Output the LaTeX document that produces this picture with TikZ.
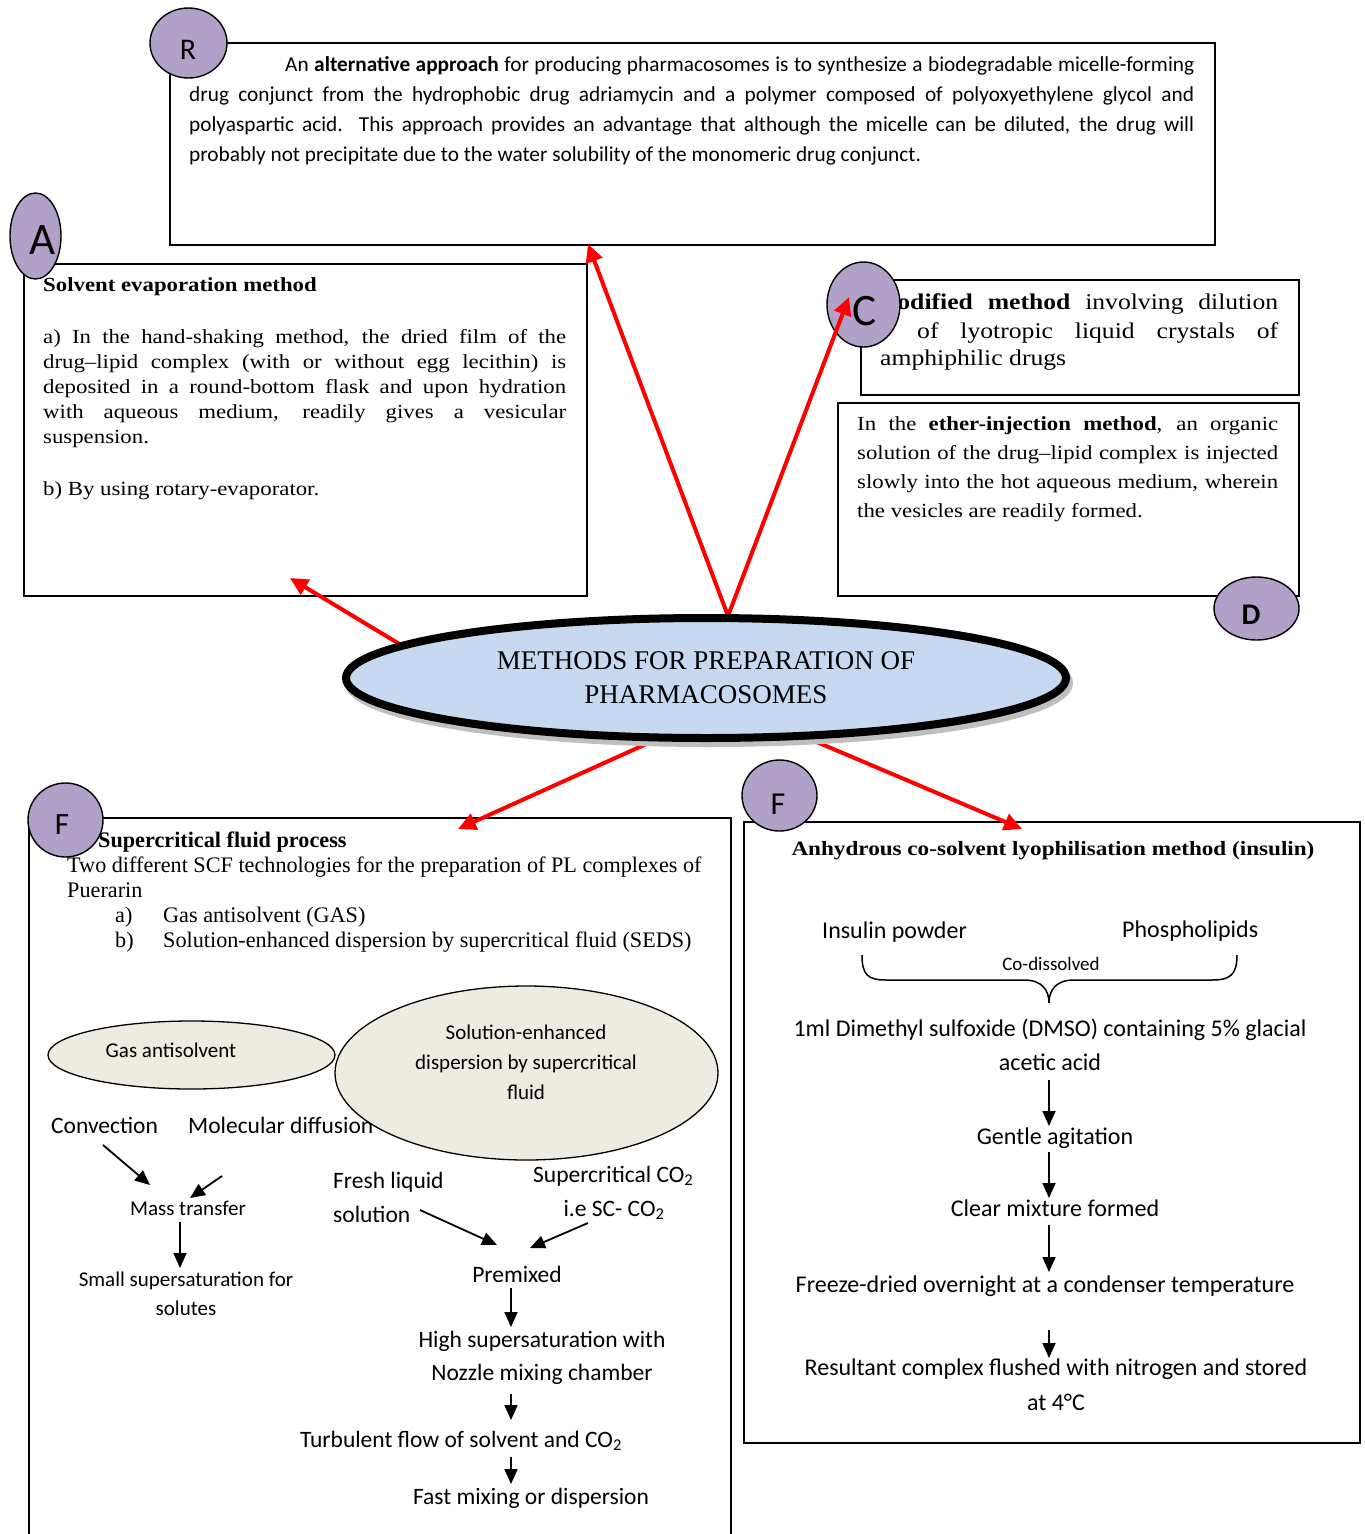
\documentclass[tikz,border=0pt]{standalone}
\usepackage{fontspec}
\setmainfont{Liberation Serif}
\newfontfamily\fcal{Carlito}
\newfontfamily\fcamb[FakeStretch=1.14]{Liberation Serif}
\newfontfamily\ftimes{Liberation Serif}
\usetikzlibrary{arrows.meta,shapes.geometric}
\definecolor{lav}{HTML}{B1A0C7}
\definecolor{beigefill}{HTML}{EEECE1}
\definecolor{cblue}{HTML}{C6D9F1}
\newcommand\fB{\fcal\fontsize{21.3pt}{30pt}\selectfont}
\newcommand\fA{\fcamb\fontsize{20pt}{25pt}\selectfont}
\newcommand\fC{\fcamb\fontsize{22.5pt}{28pt}\selectfont}
\newcommand\fM{\ftimes\fontsize{27pt}{34pt}\selectfont}
\newcommand\fS{\ftimes\fontsize{22.2pt}{25pt}\selectfont}
\newcommand\fL{\fcal\fontsize{23.5pt}{28pt}\selectfont}
\newcommand\fLs{\fcal\fontsize{21pt}{25pt}\selectfont}
\newcommand\fR{\fcal\fontsize{24pt}{28pt}\selectfont}
\newcommand\fRt{\fcamb\fontsize{20.3pt}{25pt}\selectfont\bfseries}
\tikzset{
 box/.style={draw, line width=1.8pt, anchor=north west, inner sep=0pt},
 lab/.style={ellipse, draw, line width=1.4pt, fill=lav, inner sep=0pt},
 tl/.style={anchor=base west, inner sep=0pt},
 tc/.style={anchor=base, inner sep=0pt},
 redarr/.style={draw=red, line width=4pt, -{Triangle[length=18pt,width=17pt]}},
 blkarr/.style={line width=1.8pt, -{Triangle[length=15pt,width=13pt]}},
 bub/.style={ellipse, draw, line width=1.3pt, fill=beigefill, inner sep=0pt},
}
\begin{document}
\begin{tikzpicture}[x=1pt,y=-1pt]
\useasboundingbox (0,0) rectangle (1365,1534);
\clip (0,0) rectangle (1365,1534);
\fill[white] (0,0) rectangle (1365,1534);

% ---------- boxes ----------
\node[box, minimum width=1045pt, minimum height=202pt] (boxB) at (169,42) {};
\node[box, minimum width=563pt, minimum height=332pt] (boxA) at (23,263) {};
\node[box, minimum width=438pt, minimum height=115pt] (boxC) at (860,279) {};
\node[box, minimum width=461pt, minimum height=193pt] (boxD) at (837,402) {};
\node[box, minimum width=702pt, minimum height=760pt] (boxFL) at (28,817) {};
\node[box, minimum width=616pt, minimum height=621pt] (boxFR) at (743,821) {};

% ---------- B text ----------
\node[tl, font=\fB] (b1) at (285,71) {\makebox[909pt][s]{An \textbf{alternative approach} for producing pharmacosomes is to synthesize a biodegradable micelle-forming}};
\node[tl, font=\fB] (b2) at (189,101) {\makebox[1005pt][s]{drug conjunct from the hydrophobic drug adriamycin and a polymer composed of polyoxyethylene glycol and}};
\node[tl, font=\fB] (b3) at (189,131) {\makebox[1005pt][s]{polyaspartic acid. This approach provides an advantage that although the micelle can be diluted, the drug will}};
\node[tl, font=\fB] (b4) at (189,161) {probably not precipitate due to the water solubility of the monomeric drug conjunct.};

% ---------- A text ----------
\node[tl, font=\fA] (a0) at (43,291) {\textbf{Solvent evaporation method}};
\node[tl, font=\fA] (a1) at (43,343) {\makebox[523pt][s]{a) In the hand-shaking method, the dried film of the}};
\node[tl, font=\fA] (a2) at (43,368) {\makebox[523pt][s]{drug–lipid complex (with or without egg lecithin) is}};
\node[tl, font=\fA] (a3) at (43,393) {\makebox[523pt][s]{deposited in a round-bottom flask and upon hydration}};
\node[tl, font=\fA] (a4) at (43,418) {\makebox[523pt][s]{with aqueous medium, readily gives a vesicular}};
\node[tl, font=\fA] (a5) at (43,443) {suspension.};
\node[tl, font=\fA] (a6) at (43,495) {b) By using rotary-evaporator.};

% ---------- C text ----------
\node[tl, font=\fC] (c1) at (873,309) {\makebox[405pt][s]{\textbf{Modified method} involving dilution}};
\node[tl, font=\fC] (c2) at (917,338) {\makebox[361pt][s]{of lyotropic liquid crystals of}};
\node[tl, font=\fC] (c3) at (880,365) {amphiphilic drugs};

% ---------- D text ----------
\node[tl, font=\fA] (d1) at (857,430) {\makebox[421pt][s]{In the \textbf{ether-injection method}, an organic}};
\node[tl, font=\fA] (d2) at (857,459) {\makebox[421pt][s]{solution of the drug–lipid complex is injected}};
\node[tl, font=\fA] (d3) at (857,488) {\makebox[421pt][s]{slowly into the hot aqueous medium, wherein}};
\node[tl, font=\fA] (d4) at (857,517) {the vesicles are readily formed.};

% ---------- left F text ----------
\node[tl, font=\fS] (s1) at (67,872) {Two different SCF technologies for the preparation of PL complexes of};
\node[tl, font=\fS] (s2) at (67,897) {Puerarin};
\node[tl, font=\fS] (s3) at (115,922) {a)};
\node[tl, font=\fS] (s4) at (163,922) {Gas antisolvent (GAS)};
\node[tl, font=\fS] (s5) at (115,947) {b)};
\node[tl, font=\fS] (s6) at (163,947) {Solution-enhanced dispersion by supercritical fluid (SEDS)};

\node[tl, font=\fL] (conv) at (51,1133) {Convection};
\node[tl, font=\fL] (moldif) at (188,1133) {Molecular diffusion};
\node[bub, minimum width=287pt, minimum height=68pt] (gas) at (191.5,1055) {};
\node[tc, font=\fLs] (gast) at (171,1057) {Gas antisolvent};
\node[bub, minimum width=383pt, minimum height=174pt] (seds) at (526.5,1073) {};
\node[tc, font=\fLs] (sd1) at (526,1039) {Solution-enhanced};
\node[tc, font=\fLs] (sd2) at (526,1069) {dispersion by supercritical};
\node[tc, font=\fLs] (sd3) at (526,1099) {fluid};

\node[tc, font=\fLs] (mass) at (188,1215) {Mass transfer};
\node[tc, font=\fLs] (small1) at (186,1286) {Small supersaturation for};
\node[tc, font=\fLs] (small2) at (186,1315) {solutes};
\node[tl, font=\fL] (fresh1) at (333,1188) {Fresh liquid};
\node[tl, font=\fL] (fresh2) at (333,1222) {solution};
\node[tl, font=\fL] (sc1) at (533,1182) {Supercritical CO\textsubscript{2}};
\node[tc, font=\fL] (sc2) at (614,1216) {i.e SC- CO\textsubscript{2}};
\node[tc, font=\fL] (prem) at (517,1282) {Premixed};
\node[tc, font=\fL] (high1) at (542,1347) {High supersaturation with};
\node[tc, font=\fL] (high2) at (542,1380) {Nozzle mixing chamber};
\node[tc, font=\fL] (turb) at (461,1447) {Turbulent flow of solvent and CO\textsubscript{2}};
\node[tc, font=\fL] (fast) at (531,1504) {Fast mixing or dispersion};

% ---------- right F text ----------
\node[tc, font=\fRt] (rt) at (1053,855) {Anhydrous co-solvent lyophilisation method (insulin)};
\node[tl, font=\fR] (ins) at (822,938) {Insulin powder};
\node[tl, font=\fR] (phos) at (1122,937) {Phospholipids};
\node[tc, font=\fcal\fontsize{19pt}{22pt}\selectfont] (codis) at (1051,970) {Co-dissolved};
\draw[line width=1.5pt] (862,955) .. controls (862,975) and (868,980) .. (886,980) -- (1024,980)
  .. controls (1042,980) and (1049,990) .. (1049,1003)
  .. controls (1049,990) and (1056,980) .. (1074,980) -- (1212,980)
  .. controls (1230,980) and (1237,975) .. (1237,955);
\node[tc, font=\fR] (dmso1) at (1050,1036) {1ml Dimethyl sulfoxide (DMSO) containing 5\% glacial};
\node[tc, font=\fR] (dmso2) at (1050,1070) {acetic acid};
\node[tc, font=\fR] (gentle) at (1055,1144) {Gentle agitation};
\node[tc, font=\fR] (clear) at (1055,1216) {Clear mixture formed};
\node[tc, font=\fR] (freeze) at (1045,1292) {Freeze-dried overnight at a condenser temperature};
\node[tc, font=\fR] (res1) at (1056,1375) {Resultant complex flushed with nitrogen and stored};
\node[tc, font=\fR] (res2) at (1056,1410) {at 4°C};

% ---------- black arrows ----------
\coordinate (k1s) at (103,1145); \coordinate (k1e) at (150,1185);
\coordinate (k2s) at (222,1176); \coordinate (k2e) at (190,1198);
\coordinate (k3s) at (180,1222); \coordinate (k3e) at (180,1268);
\coordinate (k4s) at (420,1210); \coordinate (k4e) at (497,1245);
\coordinate (k5s) at (588,1223); \coordinate (k5e) at (530,1248);
\coordinate (k6s) at (511,1288); \coordinate (k6e) at (511,1327);
\coordinate (k7s) at (511,1394); \coordinate (k7e) at (511,1420);
\coordinate (k8s) at (511,1457); \coordinate (k8e) at (511,1484);
\coordinate (r1s) at (1049,1080); \coordinate (r1e) at (1049,1126);
\coordinate (r2s) at (1049,1152); \coordinate (r2e) at (1049,1198);
\coordinate (r3s) at (1049,1225); \coordinate (r3e) at (1049,1272);
\coordinate (r4s) at (1049,1330); \coordinate (r4e) at (1049,1358);
\foreach \a in {k1,k2,k3,k4,k5,k6,k7,k8,r1,r2,r3,r4}
  \draw[blkarr] (\a s) -- (\a e);

% ---------- labels ----------
\node[lab, minimum width=77pt, minimum height=70pt] (labR) at (188.5,43) {};
\node[tc, font=\fcal\fontsize{30pt}{30pt}\selectfont] (tR) at (188,59) {R};
\node[lab, minimum width=51pt, minimum height=86pt] (labA) at (35.5,236) {};
\node[tc, font=\fcal\fontsize{45pt}{46pt}\selectfont] (tA) at (43,254) {A};
\node[lab, minimum width=73pt, minimum height=85pt] (labC) at (863.5,304.5) {};
\node[tc, font=\fcal\fontsize{45pt}{46pt}\selectfont] (tC) at (864,325) {C};
\node[lab, minimum width=85pt, minimum height=63pt] (labD) at (1256.5,608.5) {};
\node[tc, font=\fcal\bfseries\fontsize{30pt}{31pt}\selectfont] (tD) at (1251,624) {D};
\node[lab, minimum width=75pt, minimum height=74pt] (labFL) at (65.5,820) {};
\node[tc, font=\fcal\fontsize{31pt}{32pt}\selectfont] (tFL) at (62,834) {F};
\node[lab, minimum width=75pt, minimum height=71pt] (labFR) at (779.5,795.5) {};
\node[tc, font=\fcal\fontsize{32pt}{33pt}\selectfont] (tFR) at (778,814) {F};
\node[tl, font=\fS\bfseries] (s0) at (98,847) {Supercritical fluid process};

% ---------- red arrows ----------
\coordinate (oA) at (406,648); \coordinate (eA) at (290,578);
\coordinate (oB) at (728,616); \coordinate (eB) at (588,244);
\coordinate (oC) at (728,616); \coordinate (eC) at (849,297);
\coordinate (oF) at (655,740); \coordinate (eF) at (458,829);
\coordinate (oG) at (812,740); \coordinate (eG) at (1022,829);
\draw[redarr] (oA) -- (eA);
\draw[redarr] (oB) -- (eB);
\draw[redarr] (oC) -- (eC);
\draw[redarr] (oF) -- (eF);
\draw[redarr] (oG) -- (eG);

% ---------- central ellipse ----------
\node[ellipse, fill=gray!50, draw=gray!50, line width=8pt, minimum width=720pt, minimum height=120pt] (shadow) at (709,683) {};
\node[ellipse, fill=cblue, draw=black, line width=8pt, minimum width=720pt, minimum height=120pt] (center) at (706,678) {};
\node[tc, font=\fM] (m1) at (706,669) {METHODS FOR PREPARATION OF};
\node[tc, font=\fM] (m2) at (706,703) {PHARMACOSOMES};
\end{tikzpicture}
\end{document}
